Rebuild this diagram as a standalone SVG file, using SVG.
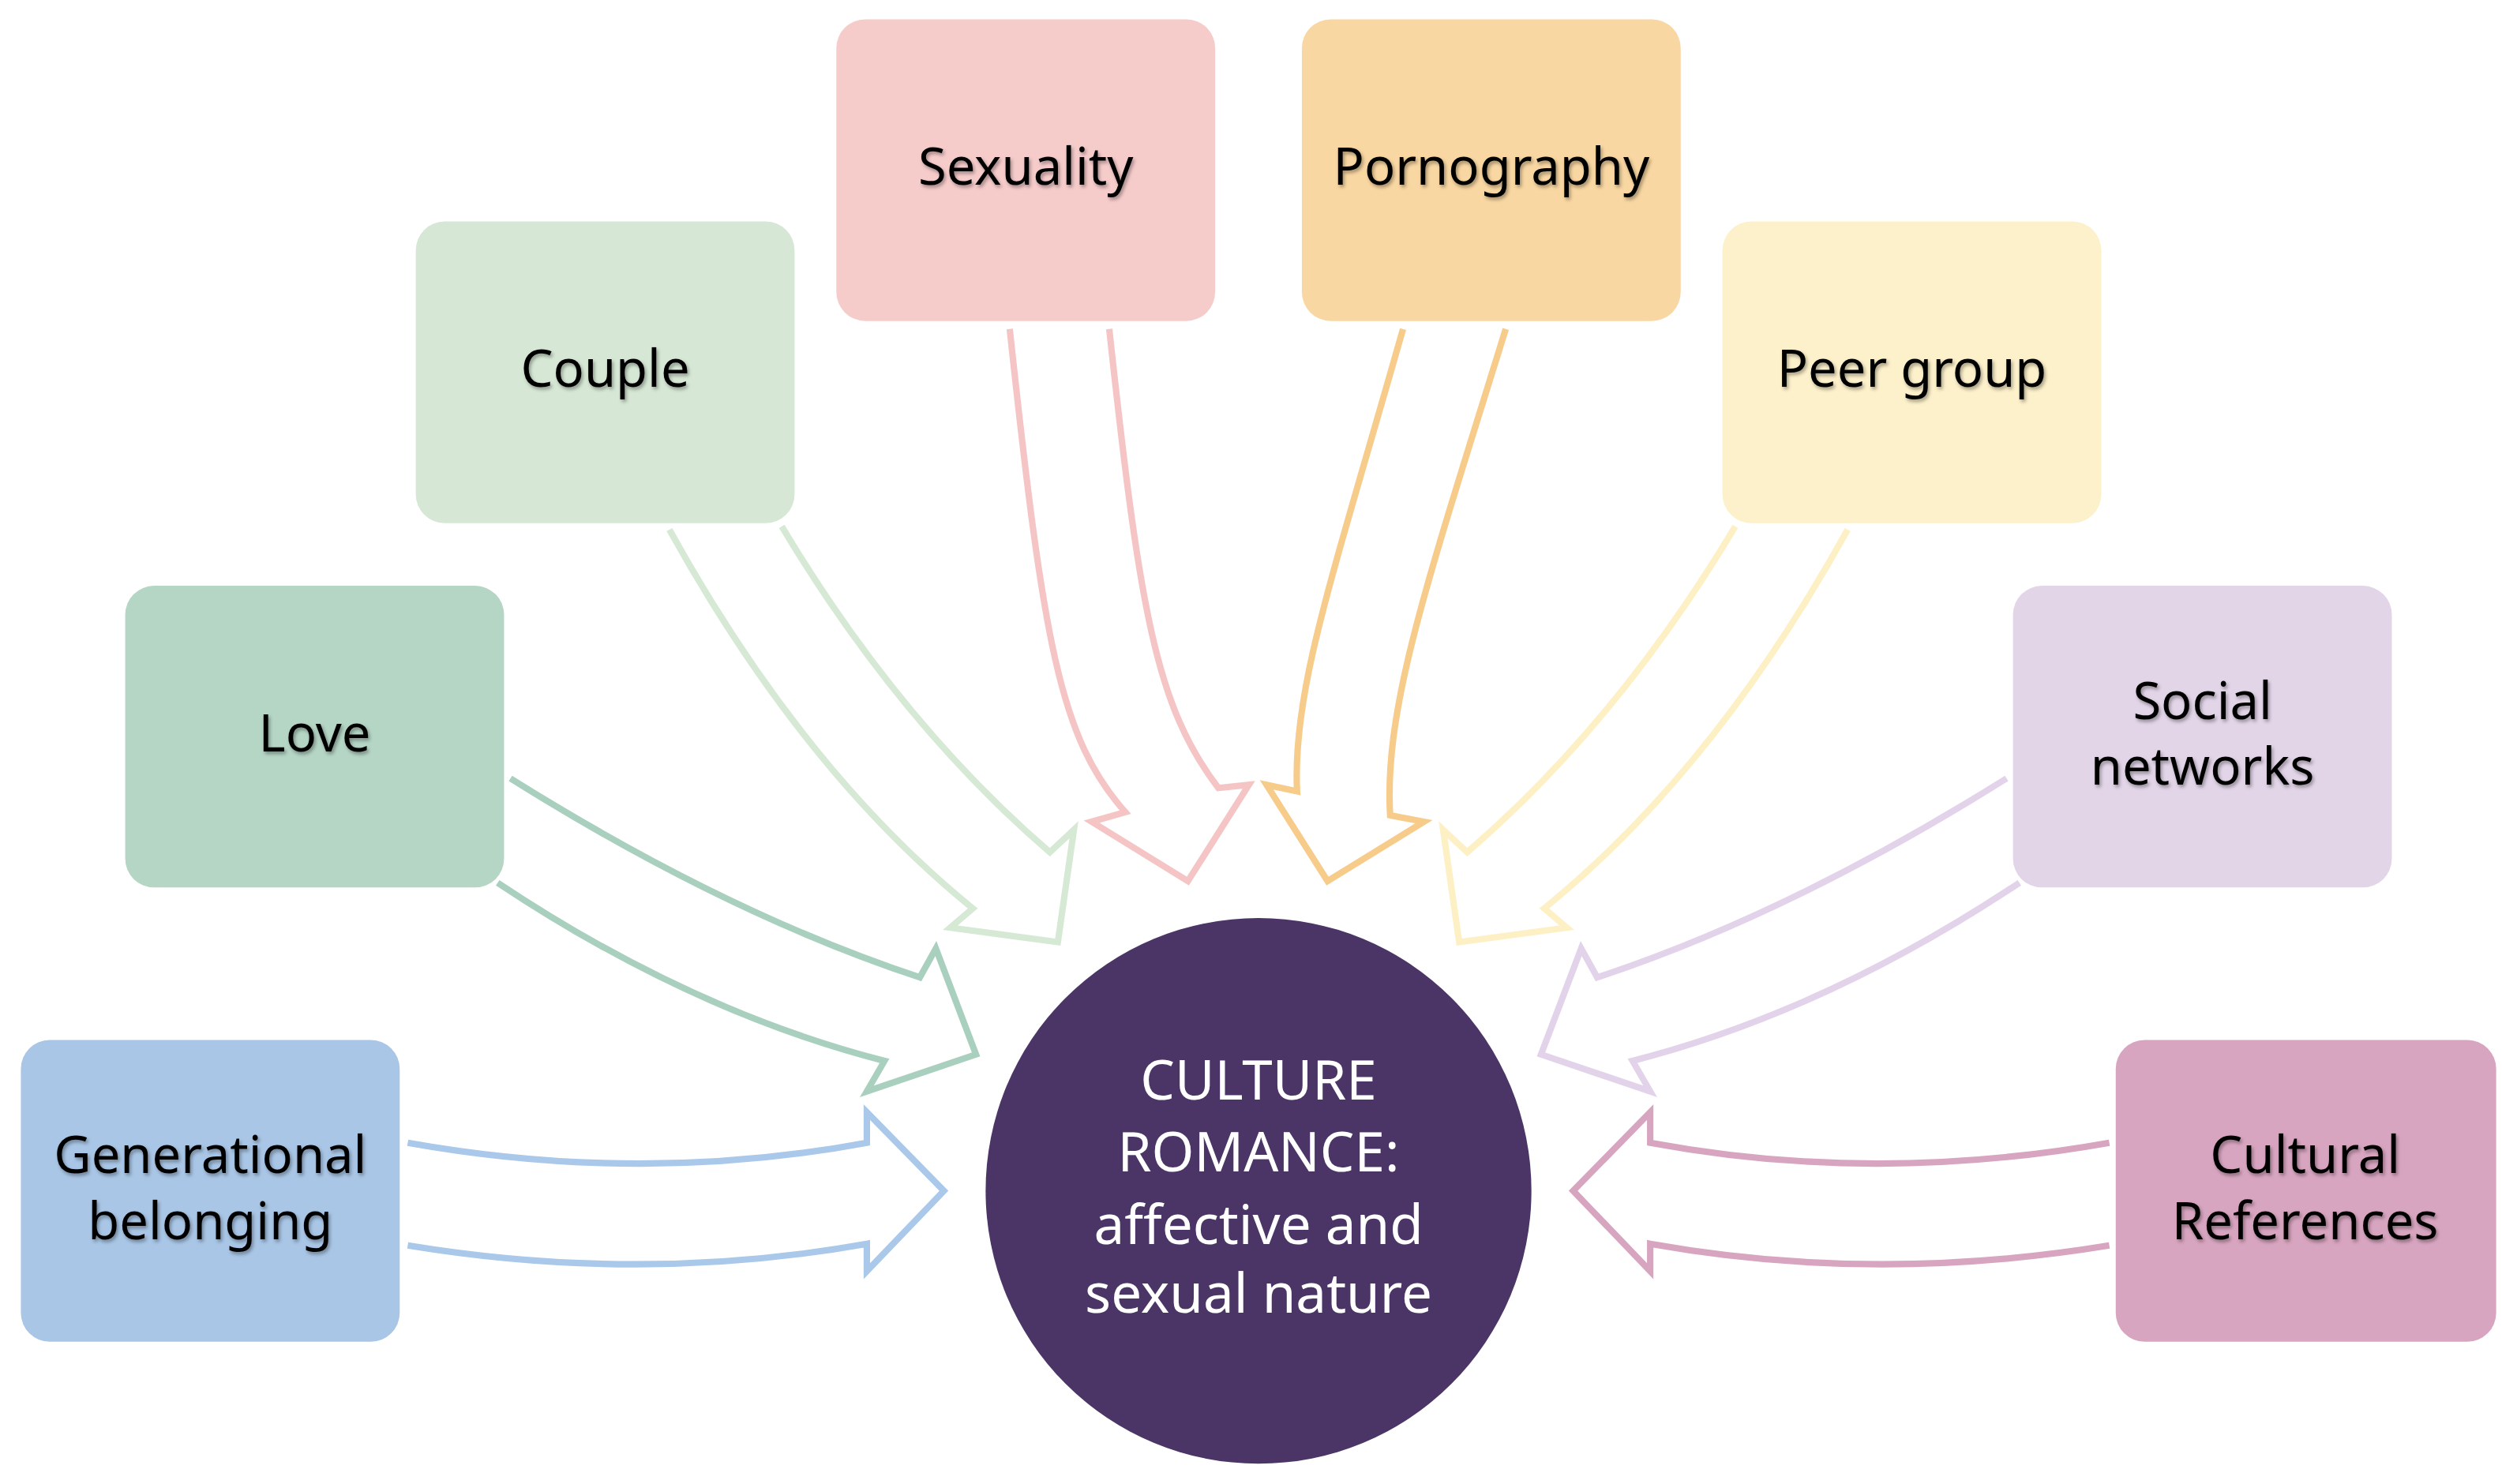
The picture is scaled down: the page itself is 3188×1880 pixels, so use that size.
<svg xmlns="http://www.w3.org/2000/svg" width="3188" height="1880" viewBox="0 0 3188 1880">
<defs>
<filter id="sh" x="-10%" y="-10%" width="120%" height="130%"><feDropShadow dx="1" dy="1.5" stdDeviation="1" flood-color="#000" flood-opacity="0.35"/></filter>
<style>
.t{font-family:"Noto Sans","DejaVu Sans",sans-serif;font-size:32px;text-anchor:middle;fill:#000;filter:url(#sh)}
.c{font-family:"Noto Sans","DejaVu Sans",sans-serif;font-size:34px;text-anchor:middle;fill:#fff}
.a{fill:none;stroke-width:4;stroke-linejoin:miter;stroke-linecap:butt}
</style>
</defs>
<rect width="3188" height="1880" fill="#fff"/>
<g transform="scale(2.0332)">
<g id="connectors">
<path class="a" stroke="#A9C8EA" d="M254,712 Q400,738 540,712 L540,693 L588,742 L540,792 L540,775 Q400,800 254,776"/>
<path class="a" stroke="#A9D0BE" d="M318,485 Q452,569 573,609 L583,591 L608,657 L540,680 L551,661 Q430,630 310,550"/>
<path class="a" stroke="#D6E9D4" d="M417,330 Q500,480 606,566 L592,578 L659,587 L669,517 L654,531 Q560,450 487,328"/>
<path class="a" stroke="#F5C5C5" d="M629,205 C650,400 660,460 701,506 L680,512 L740,549 L778,489 L759,491 C720,440 710,380 691,205"/>
<path class="a" stroke="#F7CB8A" d="M874,205 C830,360 805,430 808,493 L789,489 L827,549 L887,512 L866,508 C862,440 890,360 938,205"/>
<g transform="translate(1568,0) scale(-1,1)">
<path class="a" stroke="#FDF0C4" d="M417,330 Q500,480 606,566 L592,578 L659,587 L669,517 L654,531 Q560,450 487,328"/>
<path class="a" stroke="#E2D3EA" d="M318,485 Q452,569 573,609 L583,591 L608,657 L540,680 L551,661 Q430,630 310,550"/>
<path class="a" stroke="#D8A5C0" d="M254,712 Q400,738 540,712 L540,693 L588,742 L540,792 L540,775 Q400,800 254,776"/>
</g>
</g>
<g id="gen"><rect x="13" y="648" width="236" height="188" rx="18" fill="#A9C6E6"/><text class="t" x="131" y="731">Generational</text><text class="t" x="131" y="772">belonging</text></g>
<g id="love"><rect x="78" y="365" width="236" height="188" rx="18" fill="#B5D5C5"/><text class="t" x="196" y="468">Love</text></g>
<g id="couple"><rect x="259" y="138" width="236" height="188" rx="18" fill="#D6E8D5"/><text class="t" x="377" y="241">Couple</text></g>
<g id="sexuality"><rect x="521" y="12" width="236" height="188" rx="18" fill="#F6CCCB"/><text class="t" x="639" y="115">Sexuality</text></g>
<g id="pornography"><rect x="811" y="12" width="236" height="188" rx="18" fill="#F9D7A2"/><text class="t" x="929" y="115">Pornography</text></g>
<g id="peer"><rect x="1073" y="138" width="236" height="188" rx="18" fill="#FDF1CB"/><text class="t" x="1191" y="241">Peer group</text></g>
<g id="social"><rect x="1254" y="365" width="236" height="188" rx="18" fill="#E2D5E8"/><text class="t" x="1372" y="448">Social</text><text class="t" x="1372" y="489">networks</text></g>
<g id="cultural"><rect x="1318" y="648" width="237" height="188" rx="18" fill="#D8A5C0"/><text class="t" x="1436" y="731">Cultural</text><text class="t" x="1436" y="772">References</text></g>
<g id="center"><circle cx="784" cy="742" r="170" fill="#4A3566"/>
<text class="c" x="784" y="685">CULTURE</text><text class="c" x="784" y="730">ROMANCE:</text><text class="c" x="784" y="775">affective and</text><text class="c" x="784" y="818">sexual nature</text></g>
</g>
</svg>
